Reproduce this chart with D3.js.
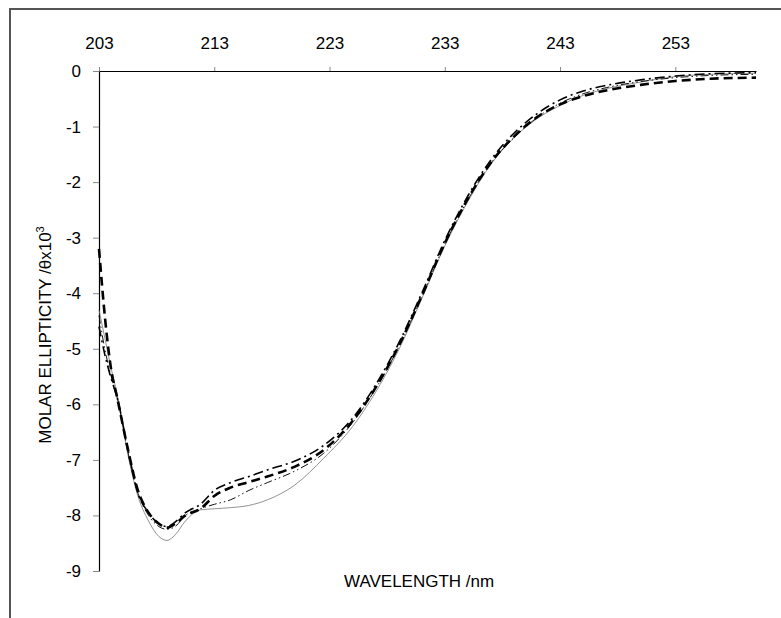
<!DOCTYPE html>
<html>
<head>
<meta charset="utf-8">
<script src="https://cdn.jsdelivr.net/npm/d3@7/dist/d3.min.js"></script>
<style>
  html, body { margin: 0; padding: 0; background: #fff; }
  svg { display: block; }
  text { font-family: "Liberation Sans", Arial, sans-serif; fill: #000; }
</style>
</head>
<body>
<svg id="chart" width="781" height="618"></svg>
<script>
// ---- data ----
const wavelengths = [203, 203.5, 204, 204.6, 205.5, 206.3, 207.3, 208.2, 208.9, 209.6, 210.5, 211.8, 213, 214.4, 216, 217.6, 220, 222.5, 225, 227, 229, 231, 233, 235, 237, 239, 241, 243, 245, 247, 250, 253, 256, 260];
const seriesA = [-3.2, -4.4, -5.3, -5.9, -6.8, -7.5, -7.95, -8.15, -8.22, -8.15, -8.0, -7.88, -7.65, -7.5, -7.4, -7.3, -7.12, -6.82, -6.3, -5.7, -4.95, -4.05, -3.1, -2.3, -1.65, -1.18, -0.83, -0.6, -0.45, -0.35, -0.25, -0.18, -0.14, -0.12];
const seriesB = [-4.6, -5.1, -5.5, -5.9, -6.8, -7.55, -7.95, -8.15, -8.2, -8.12, -7.95, -7.8, -7.55, -7.41, -7.3, -7.18, -7.02, -6.74, -6.25, -5.65, -4.9, -4.0, -3.05, -2.25, -1.6, -1.12, -0.77, -0.52, -0.36, -0.26, -0.16, -0.09, -0.05, -0.03];
const seriesC = [-4.4, -5.0, -5.45, -5.9, -6.85, -7.55, -8.0, -8.2, -8.25, -8.2, -8.0, -7.88, -7.8, -7.72, -7.55, -7.41, -7.2, -6.88, -6.33, -5.72, -4.97, -4.07, -3.12, -2.32, -1.66, -1.2, -0.84, -0.58, -0.41, -0.3, -0.19, -0.12, -0.08, -0.06];
const seriesD = [-4.3, -4.8, -5.3, -5.85, -6.9, -7.6, -8.1, -8.38, -8.45, -8.35, -8.1, -7.9, -7.88, -7.86, -7.82, -7.72, -7.45, -6.97, -6.4, -5.78, -5.02, -4.1, -3.15, -2.35, -1.68, -1.2, -0.86, -0.62, -0.44, -0.32, -0.2, -0.1, -0.06, -0.04];
const xTicks = [203, 213, 223, 233, 243, 253];
const yTicks = [0, -1, -2, -3, -4, -5, -6, -7, -8, -9];
const xTitle = "WAVELENGTH /nm";
const yTitle = "MOLAR ELLIPTICITY /θx10";

// ---- layout ----
const svg = d3.select("#chart");
const mLeft = 99, mRight = 756, mTop = 71, mBottom = 571;
const x = d3.scaleLinear().domain([203, 260]).range([mLeft, mRight]);
const y = d3.scaleLinear().domain([0, -9]).range([mTop, mBottom]);

// outer frame
svg.append("rect").attr("x", 10).attr("y", 9).attr("width", 800).attr("height", 640)
  .attr("fill", "none").attr("stroke", "#555").attr("stroke-width", 2);

// top axis
const xAxis = svg.append("g").attr("transform", `translate(0,${mTop})`)
  .call(d3.axisTop(x).tickValues(xTicks).tickSize(4).tickSizeOuter(0).tickPadding(18));
xAxis.select(".domain").attr("stroke", "#000").attr("stroke-width", 1.2);
xAxis.selectAll(".tick line").attr("stroke", "#888");
xAxis.selectAll(".tick text").attr("font-size", 17).attr("font-family", "Liberation Sans, Arial, sans-serif");

// left axis
const yAxis = svg.append("g").attr("transform", `translate(${mLeft},0)`)
  .call(d3.axisLeft(y).tickValues(yTicks).tickSize(6).tickSizeOuter(0).tickPadding(12)
    .tickFormat(d => d === 0 ? "0" : String(d)));
yAxis.select(".domain").attr("stroke", "#000").attr("stroke-width", 1.2);
yAxis.selectAll(".tick line").attr("stroke", "#888");
yAxis.selectAll(".tick text").attr("font-size", 17).attr("font-family", "Liberation Sans, Arial, sans-serif");

// series
const series = [
  { vals: seriesD, stroke: "#777", width: 0.8, dash: null },
  { vals: seriesC, stroke: "#111", width: 1.0, dash: "8,3,1.5,3,1.5,3" },
  { vals: seriesB, stroke: "#000", width: 1.6, dash: "10,4,2,4" },
  { vals: seriesA, stroke: "#000", width: 2.6, dash: "9,5" }
];
const line = d3.line()
  .x((d, i) => x(wavelengths[i]))
  .y(d => y(d))
  .curve(d3.curveMonotoneX);
series.forEach(s => {
  svg.append("path").datum(s.vals)
    .attr("d", line)
    .attr("fill", "none")
    .attr("stroke", s.stroke)
    .attr("stroke-width", s.width)
    .attr("stroke-dasharray", s.dash);
});

// titles
svg.append("text").attr("x", 344).attr("y", 587)
  .attr("text-anchor", "start").attr("font-size", 17).text(xTitle);
const yt = svg.append("text")
  .attr("transform", `translate(51,335) rotate(-90)`)
  .attr("text-anchor", "middle").attr("font-size", 17);
yt.append("tspan").text(yTitle);
yt.append("tspan").attr("dy", -7).attr("font-size", 11).text("3");
</script>
</body>
</html>
